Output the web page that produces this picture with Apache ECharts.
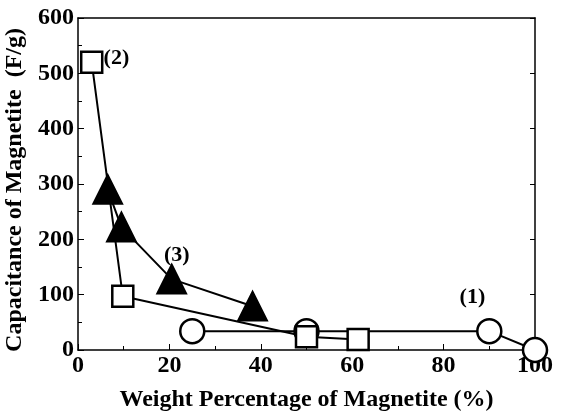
<!DOCTYPE html>
<html>
<head>
<meta charset="utf-8">
<script src="https://cdn.jsdelivr.net/npm/echarts@6/dist/echarts.min.js"></script>
<style>
  html, body { margin: 0; padding: 0; background: #fff; }
  #chart { width: 562px; height: 417px; }
</style>
</head>
<body>
<div id="chart"></div>
<script>
// data
var circles = [[25, 34], [50, 34], [90, 34], [100, 0]];          // (1)
var squares = [[3, 520], [9.8, 97], [50, 24], [61.3, 19]];       // (2)
var triangles = [[6.5, 290], [9.5, 222], [20.5, 128], [38.2, 79]]; // (3)
var notes = [[5.6, 527, '(2)'], [18.8, 172, '(3)'], [83.5, 96, '(1)']];

var font = 'Liberation Serif';

window.onload = function () {
	var chart = echarts.init(document.getElementById('chart'));

	function lineSeries(data, symbol, size, fill) {
		return {
			type: 'line',
			data: data,
			symbol: symbol,
			symbolSize: size,
			showAllSymbol: true,
			z: 3,
			lineStyle: { color: '#000', width: 2 },
			itemStyle: { color: fill, borderColor: '#000', borderWidth: 2.5 }
		};
	}

	var option = {
		animation: false,
		grid: { left: 78, right: 27, top: 18, bottom: 67, outerBoundsMode: 'none', containLabel: false },
		xAxis: [{
			type: 'value', min: 0, max: 100, interval: 20,
			name: 'Weight Percentage of Magnetite (%)',
			nameLocation: 'middle', nameGap: 38,
			nameTextStyle: { fontFamily: font, fontWeight: 'bold', fontSize: 24, color: '#000' },
			axisLine: { lineStyle: { color: '#000', width: 1.5 } },
			axisTick: { inside: true, length: 6, lineStyle: { color: '#000' } },
			minorTick: { show: true, splitNumber: 2, length: 4, lineStyle: { color: '#000' } },
			axisLabel: { fontFamily: font, fontWeight: 'bold', fontSize: 24, color: '#000', margin: 4 },
			splitLine: { show: false }
		}, {
			type: 'value', min: 0, max: 100, position: 'top',
			axisLine: { show: true, onZero: false, lineStyle: { color: '#000', width: 1.5 } },
			axisTick: { show: false }, axisLabel: { show: false }, splitLine: { show: false }
		}],
		yAxis: [{
			type: 'value', min: 0, max: 600, interval: 100,
			name: 'Capacitance of Magnetite  (F/g)\u00a0\u00a0',
			nameLocation: 'middle', nameGap: 45,
			nameTextStyle: { fontFamily: font, fontWeight: 'bold', fontSize: 24, color: '#000' },
			axisLine: { show: true, lineStyle: { color: '#000', width: 1.5 } },
			axisTick: { inside: true, length: 6, lineStyle: { color: '#000' } },
			minorTick: { show: true, splitNumber: 2, length: 4, lineStyle: { color: '#000' } },
			axisLabel: { fontFamily: font, fontWeight: 'bold', fontSize: 24, color: '#000', margin: 4 },
			splitLine: { show: false }
		}, {
			type: 'value', min: 0, max: 600, interval: 100, position: 'right',
			axisLine: { show: true, onZero: false, lineStyle: { color: '#000', width: 1.5 } },
			axisTick: { inside: true, length: 5, lineStyle: { color: '#000' } },
			axisLabel: { show: false }, splitLine: { show: false }
		}],
		series: [
			lineSeries(circles, 'circle', 24, '#fff'),
			lineSeries(squares, 'rect', 21, '#fff'),
			lineSeries(triangles, 'triangle', 28, '#000'),
			{
				type: 'scatter',
				symbolSize: 0,
				z: 5,
				silent: true,
				data: notes.map(function (n) { return { value: [n[0], n[1]], name: n[2] }; }),
				label: {
					show: true, position: 'right', distance: 0,
					formatter: '{b}', opacity: 1, textBorderWidth: 0,
					fontFamily: font, fontWeight: 'bold', fontSize: 22, color: '#000'
				}
			}
		]
	};

	chart.setOption(option);
};
</script>
</body>
</html>
